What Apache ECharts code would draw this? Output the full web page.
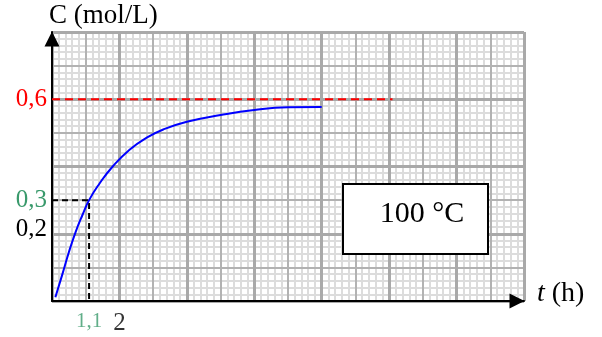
<!DOCTYPE html>
<html><head><meta charset="utf-8">
<script src="https://cdn.jsdelivr.net/npm/echarts@6/dist/echarts.min.js"></script>
<style>html,body{margin:0;padding:0;background:#fff;}#c{width:602px;height:337px;}</style>
</head><body><div id="c"></div>
<script>
// ---- data ----
const timeH = [0.1, 0.3, 0.5, 0.7, 0.9, 1.1, 1.4, 1.8, 2.3, 2.8, 3.3, 4.0, 5.0, 6.0, 7.0, 8.0];
const concentration = [0.011, 0.077, 0.145, 0.205, 0.255, 0.30, 0.348, 0.40, 0.45, 0.485, 0.51, 0.533, 0.553, 0.568, 0.576, 0.577];
const plateauLine = [[0, 0.6], [10.1, 0.6]];
const halfLine = [[0, 0.3], [1.1, 0.3], [1.1, 0]];
const xMarkValues = [1.1, 2];
const xMarkLabels = ['1,1', '2'];
const yTickLabels = { 2: '0,2', 3: '0,3', 6: '0,6' };
const yTickStyle = { 2: 'k', 3: 'g', 6: 'r' };
const tMax = 14, cMax = 0.8;
const boxText = '100 °C';
const yTitle = 'C (mol/L)';

const SERIF = '"Liberation Serif", "DejaVu Serif", serif';
const GREEN = '#3a9a6c';

function gridAxis(dim, kind, z) {
  const isX = dim === 'x';
  const ax = {
    type: 'value', min: 0, max: isX ? tMax : cMax,
    interval: isX ? (kind === 'thick' ? 2 : 1) : (kind === 'thick' ? 0.2 : 0.1),
    position: isX ? 'bottom' : 'left', z: z,
    axisLine: { show: false }, axisTick: { show: false }, axisLabel: { show: false },
    splitLine: { show: false }, minorTick: { show: false }, minorSplitLine: { show: false }
  };
  if (kind === 'minor') {
    ax.minorTick = { show: false, splitNumber: 5 };
    ax.minorSplitLine = { show: true, lineStyle: { color: '#dcdcdc', width: 2 } };
  } else if (kind === 'medium') {
    ax.splitLine = { show: true, lineStyle: { color: '#b2b2b2', width: 2 } };
  } else if (kind === 'thick') {
    ax.splitLine = { show: true, lineStyle: { color: '#a9a9a9', width: 3 } };
  } else if (kind === 'line') {
    ax.axisLine = { show: true, symbol: ['none', 'triangle'], symbolSize: [15, 15], symbolOffset: [0, -7],
      lineStyle: { color: '#000', width: 2 } };
    if (!isX) {
      ax.axisLabel = {
        show: true, margin: 5,
        formatter: function (v) {
          const k = Math.round(v * 10);
          return yTickLabels[k] ? '{' + yTickStyle[k] + '|' + yTickLabels[k] + '}' : '';
        },
        rich: {
          k: { color: '#000', fontSize: 25, fontFamily: SERIF, padding: [0, 0, 8, 0] },
          g: { color: GREEN, fontSize: 25, fontFamily: SERIF },
          r: { color: '#ff0000', fontSize: 25, fontFamily: SERIF }
        }
      };
    }
  }
  return ax;
}

const chart = echarts.init(document.getElementById('c'), null, { renderer: 'canvas' });
chart.setOption({
  animation: false,
  backgroundColor: '#fff',
  grid: { left: 52, right: 78, top: 32, bottom: 36, containLabel: false },
  xAxis: [gridAxis('x', 'minor', 1), gridAxis('x', 'medium', 2), gridAxis('x', 'thick', 3), gridAxis('x', 'line', 4)],
  yAxis: [gridAxis('y', 'minor', 1), gridAxis('y', 'medium', 2), gridAxis('y', 'thick', 3), gridAxis('y', 'line', 4)],
  series: [
    {
      type: 'line', z: 10, data: plateauLine, symbol: 'none', silent: true,
      lineStyle: { color: '#ff0000', width: 2, type: [8, 5] }
    },
    {
      type: 'line', z: 10, data: halfLine, symbol: 'none', silent: true,
      lineStyle: { color: '#000', width: 2, type: [6, 4] }
    },
    {
      type: 'line', z: 11, smooth: 0.5, symbol: 'none',
      data: timeH.map((t, i) => [t, concentration[i]]),
      lineStyle: { color: '#0000ff', width: 2 }
    },
    {
      type: 'scatter', z: 12, symbolSize: 0, silent: true,
      data: xMarkValues.map((t, i) => ({
        value: [t, 0],
        label: {
          show: true, position: 'bottom', distance: 10, formatter: xMarkLabels[i],
          color: i === 0 ? GREEN : '#000', fontSize: i === 0 ? 21 : 25, fontFamily: SERIF
        }
      }))
    }
  ],
  graphic: [
    { type: 'text', left: 49, top: 2, z: 20,
      style: { text: yTitle, fontSize: 27, fontFamily: SERIF, fill: '#000' } },
    { type: 'text', left: 537, top: 280, z: 20,
      style: { text: '{i|t} (h)', fontSize: 28, fontFamily: SERIF, fill: '#000',
        rich: { i: { fontStyle: 'italic', fontSize: 28, fontFamily: SERIF } } } },
    { type: 'rect', left: 342, top: 183, z: 50,
      shape: { x: 0, y: 0, width: 145, height: 70 },
      style: { fill: '#fff', stroke: '#000', lineWidth: 2 } },
    { type: 'text', x: 422, y: 214, z: 51,
      style: { text: boxText, fontSize: 30, fontFamily: SERIF, fill: '#000', align: 'center', verticalAlign: 'middle' } }
  ]
});
</script>
</body></html>
